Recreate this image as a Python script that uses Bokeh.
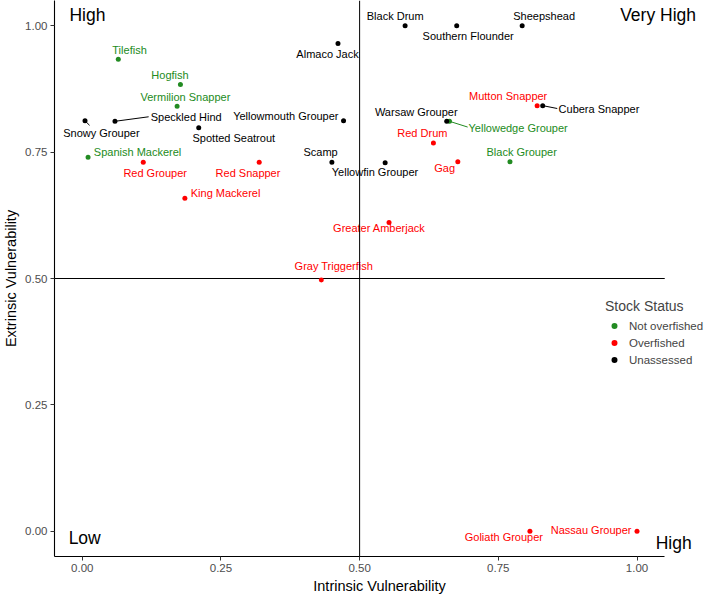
from bokeh.plotting import figure
from bokeh.models import (ColumnDataSource, Range1d, Span, Label, Legend, LegendItem,
                          FixedTicker, NumeralTickFormatter)
from bokeh.core.properties import value
from bokeh.embed import file_html
from bokeh.resources import INLINE

# ---------------- data ----------------
species = ["Tilefish", "Hogfish", "Vermilion Snapper", "Speckled Hind", "Snowy Grouper",
           "Spotted Seatrout", "Yellowmouth Grouper", "Almaco Jack", "Spanish Mackerel",
           "Red Grouper", "Red Snapper", "Scamp", "Yellowfin Grouper", "King Mackerel",
           "Gray Triggerfish", "Greater Amberjack", "Black Drum", "Southern Flounder",
           "Sheepshead", "Mutton Snapper", "Cubera Snapper", "Warsaw Grouper",
           "Yellowedge Grouper", "Red Drum", "Gag", "Black Grouper", "Goliath Grouper",
           "Nassau Grouper"]
intrinsic = [0.065, 0.177, 0.171, 0.059, 0.005, 0.210, 0.471, 0.461, 0.0105, 0.110, 0.319,
             0.450, 0.546, 0.185, 0.431, 0.553, 0.582, 0.675, 0.793, 0.820, 0.830, 0.657,
             0.662, 0.633, 0.677, 0.771, 0.807, 1.0]
extrinsic = [0.934, 0.884, 0.841, 0.811, 0.812, 0.798, 0.812, 0.965, 0.740, 0.730, 0.730,
             0.730, 0.729, 0.659, 0.497, 0.611, 1.0, 1.0, 1.0, 0.842, 0.842, 0.811,
             0.811, 0.768, 0.731, 0.731, 0.0, 0.0]
status = ["Not overfished", "Not overfished", "Not overfished", "Unassessed", "Unassessed",
          "Unassessed", "Unassessed", "Unassessed", "Not overfished", "Overfished",
          "Overfished", "Unassessed", "Unassessed", "Overfished", "Overfished", "Overfished",
          "Unassessed", "Unassessed", "Unassessed", "Overfished", "Unassessed", "Unassessed",
          "Not overfished", "Overfished", "Overfished", "Not overfished", "Overfished",
          "Overfished"]
status_levels = ["Not overfished", "Overfished", "Unassessed"]
tick_values = [0.0, 0.25, 0.5, 0.75, 1.0]
threshold = 0.5
corner_texts = ["High", "Very High", "Low", "High"]

# ---------------- layout / style ----------------
status_colors = {"Not overfished": "#228B22", "Overfished": "#FF0000", "Unassessed": "#000000"}
# label offsets (reference pixels, right / down)
label_dx = [11.5, -10.7, 8.5, 73.0, 16.8, 35.9, -59.1, -10.7, 50.7, 12.2, -11.5, -11.6, -10.4,
            41.7, 12.8, -10.0, -10.2, 11.7, 22.5, -29.7, 57.6, -31.2, 70.3, -11.3, -13.5, 12.0,
            -26.7, -47.0]
label_dy = [-9.4, -9.7, -10.0, -4.7, 12.3, 10.7, -5.3, 10.6, -5.0, 11.0, 11.0, -10.7, 9.3,
            -5.7, -14.6, 6.3, -10.0, 10.7, -10.0, -10.3, 3.7, -10.0, 7.3, -10.0, 7.0, -10.4,
            6.5, -1.0]
leaders = {"Speckled Hind": (34.7, -4.7), "Snowy Grouper": (4.7, 4.7),
           "Cubera Snapper": (15.0, 3.0), "Yellowedge Grouper": (18.7, 6.0)}
corner_pos = [(0.0094, 1.021), (1.038, 1.021), (0.0044, -0.0127), (1.066, -0.024)]

PANEL = (-0.05, 1.05)          # visible panel limits (both axes)
REF_PX_X, REF_PX_Y = 571.7, 527.0
W, H = 704, 598
BL, BT, BB = 50, 0, 42
panel_w = 614                  # pixel width of the panel part of the frame
fw, fh = W - BL, H - BT - BB
ppu_x = panel_w / (PANEL[1] - PANEL[0])
x_end = PANEL[0] + fw / ppu_x  # extra room right of the panel for legend / corner text
kx, ky = ppu_x / REF_PX_X, (fh / (PANEL[1] - PANEL[0])) / REF_PX_Y
FONT = "Liberation Sans"

p = figure(width=W, height=H, x_range=Range1d(PANEL[0], x_end), y_range=Range1d(*PANEL),
           output_backend="svg", toolbar_location=None,
           min_border_left=BL, min_border_right=0, min_border_top=BT, min_border_bottom=BB)
p.outline_line_color = None
p.grid.visible = False
p.background_fill_color = "white"
p.border_fill_color = "white"

for ax in (p.xaxis[0], p.yaxis[0]):
    ax.ticker = FixedTicker(ticks=tick_values)
    ax.formatter = NumeralTickFormatter(format="0.00")
    ax.bounds = PANEL
    ax.axis_line_color = "black"
    ax.axis_line_width = 1.1
    ax.major_tick_line_color = "#333333"
    ax.major_tick_in = 0
    ax.major_tick_out = 4
    ax.minor_tick_line_color = None
    ax.major_label_text_font = FONT
    ax.major_label_text_font_size = "11.5px"
    ax.major_label_text_color = "#4D4D4D"
    ax.major_label_standoff = 3
    ax.axis_label_text_font = FONT
    ax.axis_label_text_font_size = "14.5px"
    ax.axis_label_text_font_style = "normal"
    ax.axis_label_text_color = "black"
    ax.axis_label_standoff = 3
p.xaxis.axis_label = "Intrinsic Vulnerability"
p.yaxis.axis_label = "Extrinsic Vulnerability"

# quadrant lines
p.add_layout(Span(location=threshold, dimension="height", line_color="black", line_width=1))
p.line(x=list(PANEL), y=[threshold, threshold], line_color="black", line_width=1)

# leader segments
seg = dict(x0=[], y0=[], x1=[], y1=[], c=[])
for n, x, y, s in zip(species, intrinsic, extrinsic, status):
    if n in leaders:
        dx, dy = leaders[n]
        seg["x0"].append(x); seg["y0"].append(y)
        seg["x1"].append(x + dx / REF_PX_X); seg["y1"].append(y - dy / REF_PX_Y)
        seg["c"].append(status_colors[s])
p.segment("x0", "y0", "x1", "y1", source=ColumnDataSource(seg), line_color="c", line_width=1)

items = []
for lvl in status_levels:
    idx = [i for i, s in enumerate(status) if s == lvl]
    src = ColumnDataSource(dict(x=[intrinsic[i] for i in idx], y=[extrinsic[i] for i in idx]))
    r = p.scatter("x", "y", source=src, size=5, color=status_colors[lvl], line_width=0)
    items.append(LegendItem(label=lvl, renderers=[r]))

lab = ColumnDataSource(dict(
    x=intrinsic, y=extrinsic, t=species,
    c=[status_colors[s] for s in status],
    xo=[d * kx for d in label_dx], yo=[d * ky for d in label_dy]))
p.text("x", "y", text="t", source=lab, text_color="c", x_offset="xo", y_offset="yo",
       text_align="center", text_baseline="middle", text_font=value(FONT),
       text_font_size="11px")

for t, (cx, cy) in zip(corner_texts, corner_pos):
    p.add_layout(Label(x=cx, y=cy, text=t, text_align="center", text_baseline="alphabetic",
                       text_font=FONT, text_font_size="17.5px", text_color="black"))

legend = Legend(items=items, location=(551, 189), title="Stock Status",
                title_text_font=FONT, title_text_font_size="14px", title_text_font_style="normal",
                title_standoff=4, label_text_font=FONT, label_text_font_size="11.5px",
                glyph_width=18, glyph_height=15, label_height=15, label_standoff=6,
                spacing=2, padding=0, margin=0, border_line_color=None,
                background_fill_alpha=0)
p.add_layout(legend)

open("out.html", "w").write(file_html(p, INLINE))
